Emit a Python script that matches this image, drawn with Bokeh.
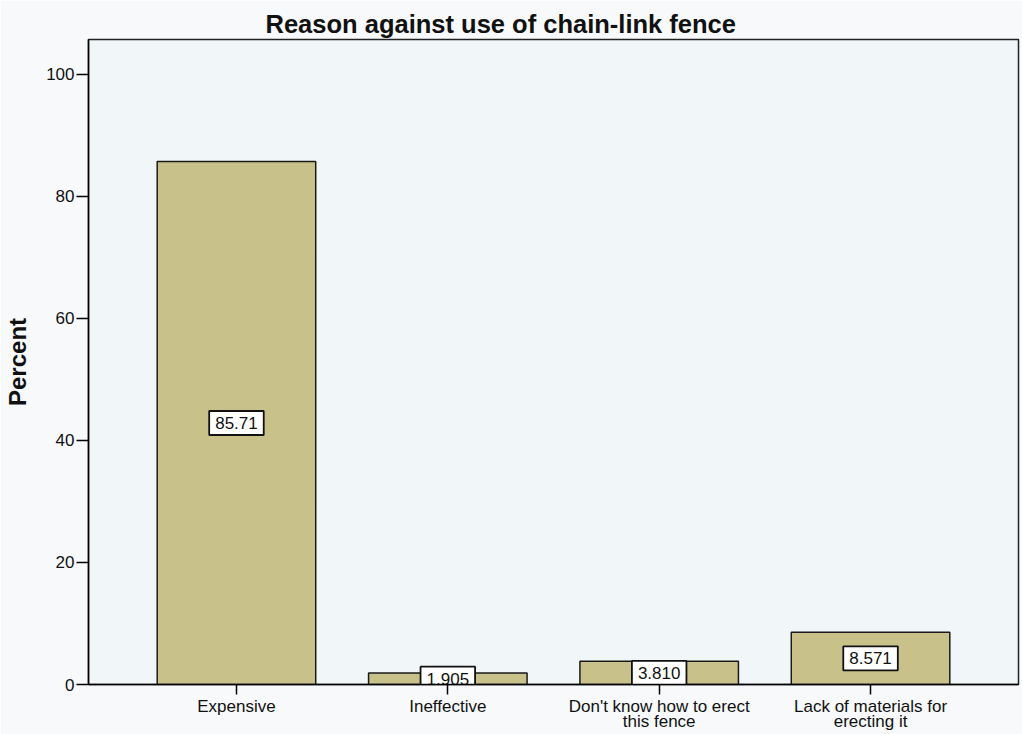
from bokeh.plotting import figure
from bokeh.models import ColumnDataSource, FactorRange, Range1d, FixedTicker
from bokeh.core.properties import value
from bokeh.embed import file_html
from bokeh.resources import INLINE

categories = ["Expensive", "Ineffective", "Don't know how to erect\nthis fence",
              "Lack of materials for\nerecting it"]
percents = [85.71, 1.905, 3.810, 8.571]
value_labels = ["85.71", "1.905", "3.810", "8.571"]
y_ticks = [0, 20, 40, 60, 80, 100]

src = ColumnDataSource(dict(cat=categories, pct=percents,
                            mid=[v / 2 for v in percents], lab=value_labels))

FONT = "Liberation Sans"

p = figure(width=1022, height=734,
           x_range=FactorRange(factors=categories, range_padding=0.1,
                               range_padding_units="percent"),
           y_range=Range1d(0, 105.7),
           output_backend="svg", toolbar_location=None,
           min_border_left=88, min_border_right=4, min_border_top=39,
           min_border_bottom=49)

p.background_fill_color = "#F1F6F9"
p.border_fill_color = "#F7F9FB"
p.outline_line_color = "#222222"
p.outline_line_width = 1.5
p.grid.visible = False

p.vbar(x="cat", top="pct", width=0.75, source=src, fill_color="#C8C18A",
       line_color="#1a1a1a", line_width=1.5)

p.text(x="cat", y="mid", text="lab", source=src, text_align="center",
       text_baseline="middle", text_font_size="17px", text_font=value(FONT),
       text_color="#111111",
       background_fill_color="white", border_line_color="#111111",
       border_line_width=1.8, padding=(6, 6))

p.title.text = "Reason against use of chain-link fence"
p.title.text_font = FONT
p.title.text_font_size = "25.5px"
p.title.text_font_style = "bold"
p.title.text_color = "#111111"
p.title.align = "left"
p.title.offset = 177
p.title.standoff = 3

p.yaxis.ticker = FixedTicker(ticks=y_ticks)
p.yaxis.axis_label = "Percent"
p.yaxis.axis_label_text_font = FONT
p.yaxis.axis_label_text_font_size = "24px"
p.yaxis.axis_label_text_font_style = "bold"
p.yaxis.axis_label_text_color = "#111111"
p.yaxis.axis_label_standoff = 12
p.yaxis.major_label_text_font = FONT
p.yaxis.major_label_text_font_size = "17px"
p.yaxis.major_label_text_color = "#111111"
p.yaxis.major_label_standoff = 2
p.yaxis.major_tick_out = 12
p.yaxis.major_tick_in = 0
p.yaxis.minor_tick_out = 0
p.yaxis.minor_tick_in = 0
p.yaxis.axis_line_width = 1.5
p.yaxis.major_tick_line_width = 1.5

p.xaxis.major_label_text_font = FONT
p.xaxis.major_label_text_font_size = "17px"
p.xaxis.major_label_text_line_height = 0.82
p.xaxis.major_label_text_color = "#111111"
p.xaxis.major_tick_out = 10
p.xaxis.major_tick_in = 0
p.xaxis.axis_line_width = 1.5
p.xaxis.major_tick_line_width = 1.5
p.xaxis.major_label_standoff = 2

open("out.html", "w").write(file_html(p, INLINE))
